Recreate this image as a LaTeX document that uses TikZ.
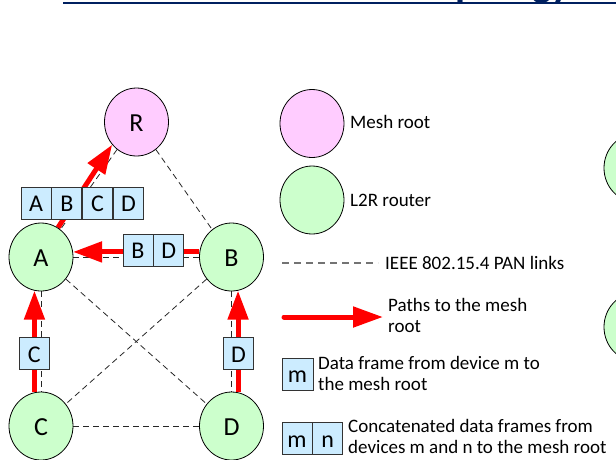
\documentclass[tikz,border=0pt]{standalone}
\usepackage{fontspec}
\setmainfont{Carlito}
\usetikzlibrary{shapes.geometric,arrows.meta,backgrounds}
\definecolor{rootpink}{RGB}{255,204,255}
\definecolor{routergreen}{RGB}{204,255,204}
\definecolor{frameblue}{RGB}{204,236,255}
\definecolor{titlenavy}{RGB}{0,32,96}
\definecolor{pathred}{RGB}{255,0,0}

\begin{document}
\begin{tikzpicture}[x=1pt,y=-1pt,
  meshnode/.style={ellipse, draw=black, line width=0.8pt, minimum width=64pt,
    minimum height=68pt, inner sep=0pt, text height=19pt, text depth=0pt,
    font=\fontsize{26}{30}\selectfont},
  rootnode/.style={meshnode, fill=rootpink},
  routernode/.style={meshnode, fill=routergreen},
  panlink/.style={draw=black!85, line width=0.8pt, dash pattern=on 6pt off 4pt},
  legendlink/.style={draw=black!55, line width=1.6pt, dash pattern=on 7pt off 5pt},
  patharrow/.style={draw=pathred, line width=5pt, -{Triangle[length=29pt,width=20pt]}},
  framecell/.style={draw=black!80, line width=0.8pt, fill=frameblue,
    minimum width=30pt, minimum height=32pt, inner sep=0pt,
    text height=17.4pt, text depth=0pt, font=\fontsize{24}{28}\selectfont},
  legendtext/.style={font=\fontsize{19}{21}\selectfont, inner sep=0pt, align=left,
    anchor=base west}
]
\useasboundingbox (0,0) rectangle (616,459);
\clip (0,0) rectangle (616,459);

% heading rule with the descenders of the slide title
\coordinate (ruleL) at (63,3);
\coordinate (ruleR) at (616,3);
\draw[titlenavy, line width=2.5pt] (ruleL) -- (ruleR);
\node[anchor=base east, inner sep=0pt, text=titlenavy,
  font=\fontsize{41}{41}\selectfont\bfseries] (title) at (571,-3.5) {Topology};

% mesh nodes
\node[rootnode]   (R) at (136.5,122) {R};
\node[routernode] (A) at (41,257)    {A};
\node[routernode] (B) at (231.5,257) {B};
\node[routernode] (C) at (41,426)    {C};
\node[routernode] (D) at (231.5,426) {D};

% routers at the right edge
\node[routernode] (E1) at (636,168) {};
\node[routernode] (E2) at (636,327) {};

\begin{pgfonlayer}{background}
  % PAN links
  \draw[panlink] (R) -- (A);
  \draw[panlink] (R) -- (B);
  \draw[panlink] (A) -- (B);
  \draw[panlink] (A) -- (C);
  \draw[panlink] (B) -- (D);
  \draw[panlink] (C) -- (D);
  \draw[panlink] (A) -- (D);
  \draw[panlink] (B) -- (C);
  % paths to the root
  \draw[patharrow] (A.60) -- (R.223);
  \draw[patharrow] (B.171) -- (A.9);
  \draw[patharrow] (C.101) -- (A.259);
  \draw[patharrow] (D.79) -- (B.281);
\end{pgfonlayer}

% data frames on the paths
\node[framecell] (fA) at (36,203) {A};
\node[framecell, anchor=west] (fB) at (fA.east) {B};
\node[framecell, anchor=west] (fC) at (fB.east) {C};
\node[framecell, anchor=west] (fD) at (fC.east) {D};

\node[framecell] (gB) at (138,250) {B};
\node[framecell, anchor=west] (gD) at (gB.east) {D};

\node[framecell] (hC) at (34.3,353.5) {C};
\node[framecell] (hD) at (238.5,353.5) {D};

% legend (two-line texts are placed by the baseline of their last line)
\node[rootnode]   (LR) at (312,123.5) {};
\node[legendtext] (tR) at (350,128.3) {Mesh root};
\node[routernode] (LG) at (312,200) {};
\node[legendtext] (tG) at (350,206) {L2R router};

\coordinate (lkL) at (282,263);
\coordinate (lkR) at (378,263);
\draw[legendlink] (lkL) -- (lkR);
\node[legendtext] (tL) at (385,269) {IEEE 802.15.4 PAN links};

\coordinate (paL) at (284,317);
\coordinate (paR) at (383,317);
\draw[patharrow, line cap=round, -{Triangle[length=30pt,width=20pt]}] (paL) -- (paR);
\node[legendtext] (tP) at (388,332.7) {Paths to the mesh\\root};

\node[framecell, minimum width=31pt] (lm) at (297.5,374) {m};
\node[legendtext] (tM) at (318,390.7) {Data frame from device m to\\the mesh root};

\node[framecell] (lm2) at (297,438.5) {m};
\node[framecell, anchor=west] (ln2) at (lm2.east) {n};
\node[legendtext] (tMN) at (348,453.3) {Concatenated data frames from\\devices m and n to the mesh root};
\end{tikzpicture}
\end{document}
